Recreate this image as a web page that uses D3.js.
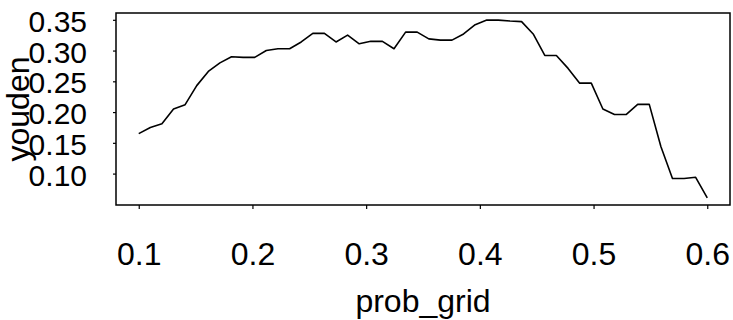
<!DOCTYPE html>
<html lang="en">
<head>
<meta charset="utf-8">
<title>youden vs prob_grid</title>
<script src="https://cdn.jsdelivr.net/npm/d3@7"></script>
<style>
  body { margin: 0; background: #fff; }
  text { font-family: "Liberation Sans", Arial, sans-serif; fill: #000; }
</style>
</head>
<body>
<script>
// data
var probGrid = [0.1000, 0.1102, 0.1204, 0.1306, 0.1408, 0.1510, 0.1612, 0.1714, 0.1816, 0.1918,
                0.2020, 0.2122, 0.2224, 0.2327, 0.2429, 0.2531, 0.2633, 0.2735, 0.2837, 0.2939,
                0.3041, 0.3143, 0.3245, 0.3347, 0.3449, 0.3551, 0.3653, 0.3755, 0.3857, 0.3959,
                0.4061, 0.4163, 0.4265, 0.4367, 0.4469, 0.4571, 0.4673, 0.4776, 0.4878, 0.4980,
                0.5082, 0.5184, 0.5286, 0.5388, 0.5490, 0.5592, 0.5694, 0.5796, 0.5898, 0.6000];
var youden = [0.165, 0.175, 0.181, 0.205, 0.212, 0.243, 0.266, 0.280, 0.290, 0.289,
              0.289, 0.300, 0.303, 0.303, 0.314, 0.328, 0.328, 0.314, 0.325, 0.311,
              0.315, 0.315, 0.303, 0.330, 0.330, 0.319, 0.317, 0.317, 0.327, 0.342,
              0.3495, 0.3495, 0.348, 0.347, 0.327, 0.292, 0.292, 0.271, 0.247, 0.247,
              0.205, 0.196, 0.196, 0.2125, 0.2125, 0.144, 0.092, 0.092, 0.094, 0.0605];
var xTicks = [0.1, 0.2, 0.3, 0.4, 0.5, 0.6];
var yTicks = [0.10, 0.15, 0.20, 0.25, 0.30, 0.35];

var w = 733, h = 320;
var plotL = 116, plotR = 730, plotT = 13, plotB = 205;

// R style 4% padding of the data range
function pad(ext) {
  var d = (ext[1] - ext[0]) * 0.04;
  return [ext[0] - d, ext[1] + d];
}

var x = d3.scaleLinear().domain(pad(d3.extent(probGrid))).range([plotL, plotR]);
var y = d3.scaleLinear().domain(pad(d3.extent(youden))).range([plotB, plotT]);

var svg = d3.select("body").append("svg")
  .attr("width", w)
  .attr("height", h);

// box
svg.append("rect")
  .attr("x", plotL).attr("y", plotT)
  .attr("width", plotR - plotL).attr("height", plotB - plotT)
  .attr("fill", "none").attr("stroke", "#000").attr("stroke-width", 1.5);

// x axis
var gx = svg.append("g")
  .attr("transform", "translate(0," + plotB + ")")
  .call(d3.axisBottom(x).tickValues(xTicks).tickSizeOuter(0).tickSize(4)
    .tickFormat(d3.format(".1f")));
gx.select(".domain").remove();
gx.selectAll("line").attr("stroke", "#000").attr("stroke-width", 1.2);
gx.selectAll("text")
  .attr("y", 60).attr("dy", null)
  .style("font-size", "32px");

// y axis
var gy = svg.append("g")
  .attr("transform", "translate(" + plotL + ",0)")
  .call(d3.axisLeft(y).tickValues(yTicks).tickSizeOuter(0).tickSize(3)
    .tickFormat(d3.format(".2f")));
gy.select(".domain").remove();
gy.selectAll("line").attr("stroke", "#000").attr("stroke-width", 1.2);
gy.selectAll("text")
  .attr("x", -29).attr("dy", 11.5)
  .style("font-size", "30px");

// axis titles
svg.append("text")
  .attr("x", (plotL + plotR) / 2).attr("y", 312)
  .attr("text-anchor", "middle")
  .style("font-size", "32px")
  .text("prob_grid");

svg.append("text")
  .attr("transform", "translate(29," + (plotT + plotB) / 2 + ") rotate(-90)")
  .attr("text-anchor", "middle")
  .style("font-size", "32px")
  .text("youden");

// line
var line = d3.line()
  .x(function(d, i) { return x(probGrid[i]); })
  .y(function(d) { return y(d); });

svg.append("path")
  .datum(youden)
  .attr("d", line)
  .attr("fill", "none")
  .attr("stroke", "#000")
  .attr("stroke-width", 1.6)
  .attr("stroke-linejoin", "round");
</script>
</body>
</html>
